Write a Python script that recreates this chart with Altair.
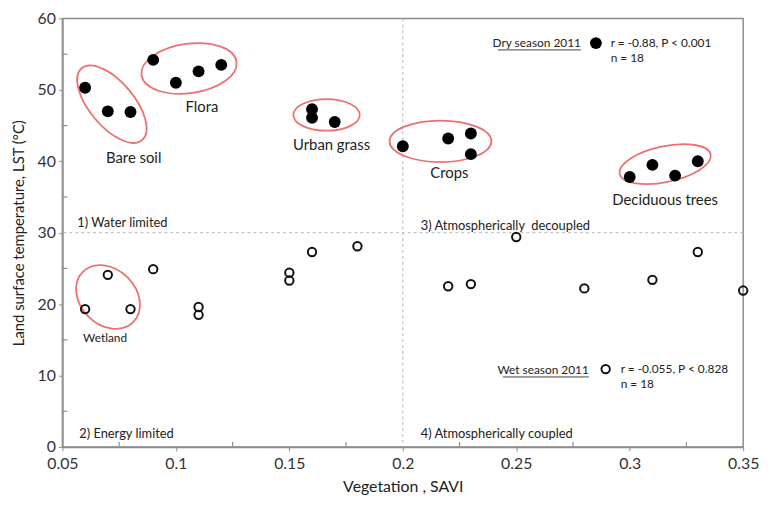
import altair as alt
import pandas as pd

# ---- data ----
dry_x = [0.06, 0.07, 0.08, 0.09, 0.10, 0.11, 0.12, 0.16, 0.16, 0.17,
         0.20, 0.22, 0.23, 0.23, 0.30, 0.31, 0.32, 0.33]
dry_y = [50.3, 47.0, 46.9, 54.2, 51.0, 52.6, 53.5, 47.3, 46.1, 45.5,
         42.1, 43.2, 43.9, 41.0, 37.8, 39.5, 38.0, 40.0]
wet_x = [0.06, 0.07, 0.08, 0.09, 0.11, 0.11, 0.15, 0.15, 0.16, 0.18,
         0.22, 0.23, 0.25, 0.28, 0.31, 0.33, 0.35]
wet_y = [19.3, 24.1, 19.3, 24.9, 19.6, 18.5, 24.4, 23.3, 27.3, 28.1,
         22.5, 22.8, 29.4, 22.2, 23.4, 27.3, 21.9]

x_major = [0.05, 0.1, 0.15, 0.2, 0.25, 0.3, 0.35]
x_minor = [0.075, 0.125, 0.175, 0.225, 0.275, 0.325]
y_major = [0, 10, 20, 30, 40, 50, 60]
y_minor = [5, 15, 25, 35, 45, 55]

groups = ["Bare soil", "Flora", "Urban grass", "Crops", "Deciduous trees", "Wetland"]
group_cx = [0.0718, 0.1058, 0.1664, 0.2166, 0.3156, 0.0701]
group_cy = [48.0, 53.0, 46.5, 42.8, 39.6, 21.0]
group_lx = [0.0814, 0.1115, 0.1686, 0.2205, 0.3156, 0.0688]
group_ly = [40.5, 47.6, 42.3, 38.3, 34.6, 15.3]

# ellipse annotation geometry (major/minor in px, clockwise tilt in degrees)
ell_major = [95, 97, 67, 103, 94, 72]
ell_minor = [45, 50, 32, 42, 36, 56]
ell_angle = [50, 352, 0, 0, 348, 45]

quad_text = ["1) Water limited", "2) Energy limited",
             "3) Atmospherically\u00a0 decoupled", "4) Atmospherically coupled"]
quad_x = [0.0565, 0.0574, 0.2079, 0.2079]
quad_y = [31.4, 1.8, 31.0, 1.8]

FONT = "Lato"
RED = "#ee7070"
W, H = 688, 433


def ellipse_path(ratio):
    k = 0.5523
    r = ratio
    return (f"M -1 0 C -1 {-k*r:.4f} {-k:.4f} {-r:.4f} 0 {-r:.4f} "
            f"C {k:.4f} {-r:.4f} 1 {-k*r:.4f} 1 0 "
            f"C 1 {k*r:.4f} {k:.4f} {r:.4f} 0 {r:.4f} "
            f"C {-k:.4f} {r:.4f} -1 {k*r:.4f} -1 0 Z")


xs = alt.Scale(domain=[0.05, 0.35], nice=False, zero=False)
ys = alt.Scale(domain=[0, 60], nice=False)

dry = pd.DataFrame({"x": dry_x, "y": dry_y})
wet = pd.DataFrame({"x": wet_x, "y": wet_y})

base_axes = alt.Chart(pd.DataFrame({"x": [0.05], "y": [0]})).mark_point(opacity=0).encode(
    x=alt.X("x:Q", scale=xs, title="Vegetation , SAVI",
            axis=alt.Axis(values=x_major, format="~g", grid=False, tickSize=4,
                          labelPadding=5, labelFontSize=16, labelFont=FONT,
                          labelColor="#333", titleFont=FONT, titleFontSize=16,
                          titleFontWeight="normal", titleColor="#222", titlePadding=7,
                          domainColor="#8c8c8c", tickColor="#8c8c8c", domainWidth=1.5,
                          labelFlush=False)),
    y=alt.Y("y:Q", scale=ys, title="Land surface temperature, LST (°C)",
            axis=alt.Axis(values=y_major, grid=False, tickSize=4, labelPadding=3,
                          labelFontSize=16, labelFont=FONT, labelColor="#333",
                          titleFont=FONT, titleFontSize=15, titleFontWeight="normal",
                          titleColor="#222", titlePadding=11,
                          domainColor="#8c8c8c", tickColor="#8c8c8c", domainWidth=1.5)),
)

xminor = alt.Chart(pd.DataFrame({"x": x_minor})).mark_rule(color="#8c8c8c", strokeWidth=1.2).encode(
    x=alt.X("x:Q", scale=xs), y=alt.value(H), y2=alt.value(H - 5))
yminor = alt.Chart(pd.DataFrame({"y": y_minor})).mark_rule(color="#8c8c8c", strokeWidth=1.2).encode(
    y=alt.Y("y:Q", scale=ys), x=alt.value(0), x2=alt.value(5))

vline = alt.Chart(pd.DataFrame({"x": [0.2]})).mark_rule(
    color="#b5b5b5", strokeDash=[3, 3], strokeWidth=1).encode(x=alt.X("x:Q", scale=xs))
hline = alt.Chart(pd.DataFrame({"y": [30]})).mark_rule(
    color="#b5b5b5", strokeDash=[3, 3], strokeWidth=1).encode(y=alt.Y("y:Q", scale=ys))

ell_df = pd.DataFrame({
    "x": group_cx, "y": group_cy,
    "shape": [ellipse_path(mi / ma) for mi, ma in zip(ell_minor, ell_major)],
    "size": [ma * ma for ma in ell_major],
    "angle": ell_angle,
})
ellipses = alt.Chart(ell_df).mark_point(filled=False, color=RED, strokeWidth=1.8, opacity=1).encode(
    x=alt.X("x:Q", scale=xs), y=alt.Y("y:Q", scale=ys),
    shape=alt.Shape("shape:N", scale=None),
    size=alt.Size("size:Q", scale=None),
    angle=alt.Angle("angle:Q", scale=None),
)

dry_pts = alt.Chart(dry).mark_circle(color="black", size=144, opacity=1).encode(
    x=alt.X("x:Q", scale=xs), y=alt.Y("y:Q", scale=ys))
wet_pts = alt.Chart(wet).mark_point(shape="circle", filled=False, color="#111",
                                    size=72, strokeWidth=2, opacity=1).encode(
    x=alt.X("x:Q", scale=xs), y=alt.Y("y:Q", scale=ys))

grp_df = pd.DataFrame({"x": group_lx, "y": group_ly, "t": groups})
grp_big = alt.Chart(grp_df[grp_df.t != "Wetland"]).mark_text(
    font=FONT, fontSize=15, color="#222", align="center", baseline="middle").encode(
    x=alt.X("x:Q", scale=xs), y=alt.Y("y:Q", scale=ys), text="t:N")
grp_small = alt.Chart(grp_df[grp_df.t == "Wetland"]).mark_text(
    font=FONT, fontSize=12, color="#222", align="center", baseline="middle").encode(
    x=alt.X("x:Q", scale=xs), y=alt.Y("y:Q", scale=ys), text="t:N")

quad = alt.Chart(pd.DataFrame({"x": quad_x, "y": quad_y, "t": quad_text})).mark_text(
    font=FONT, fontSize=13, color="#222", align="left", baseline="middle").encode(
    x=alt.X("x:Q", scale=xs), y=alt.Y("y:Q", scale=ys), text="t:N")

# legend-like annotations
leg_title = alt.Chart(pd.DataFrame({"x": [0.2785, 0.282], "y": [56.55, 10.8],
                                    "t": ["Dry season 2011", "Wet season 2011"]})).mark_text(
    font=FONT, fontSize=12, color="#222", align="right", baseline="middle").encode(
    x=alt.X("x:Q", scale=xs), y=alt.Y("y:Q", scale=ys), text="t:N")
underline = alt.Chart(pd.DataFrame({"x": [0.2419, 0.2441], "x2": [0.2785, 0.282],
                                    "y": [55.6, 9.8]})).mark_rule(color="#444", strokeWidth=1).encode(
    x=alt.X("x:Q", scale=xs), x2="x2:Q", y=alt.Y("y:Q", scale=ys))
leg_stats = alt.Chart(pd.DataFrame({
    "x": [0.2916, 0.2916, 0.296, 0.296],
    "y": [56.55, 54.5, 10.9, 8.8],
    "t": ["r = -0.88, P < 0.001", "n = 18", "r = -0.055, P < 0.828", "n = 18"]})).mark_text(
    font=FONT, fontSize=12, color="#222", align="left", baseline="middle").encode(
    x=alt.X("x:Q", scale=xs), y=alt.Y("y:Q", scale=ys), text="t:N")
leg_dry = alt.Chart(pd.DataFrame({"x": [0.2851], "y": [56.55]})).mark_circle(
    color="black", size=144, opacity=1).encode(x=alt.X("x:Q", scale=xs), y=alt.Y("y:Q", scale=ys))
leg_wet = alt.Chart(pd.DataFrame({"x": [0.2894], "y": [10.9]})).mark_point(
    shape="circle", filled=False, color="#111", size=72, strokeWidth=2, opacity=1).encode(
    x=alt.X("x:Q", scale=xs), y=alt.Y("y:Q", scale=ys))

chart = alt.layer(
    base_axes, vline, hline, xminor, yminor, ellipses, dry_pts, wet_pts,
    grp_big, grp_small, quad, leg_title, underline, leg_stats, leg_dry, leg_wet,
).properties(
    width=W, height=H,
    autosize=alt.AutoSizeParams(type="none"),
    padding={"left": 55, "top": 8, "right": 17, "bottom": 48},
    background="white",
).configure_view(stroke="#8c8c8c", strokeWidth=1.5)

chart.save("out.html", embed_options={"renderer": "svg", "actions": False})
